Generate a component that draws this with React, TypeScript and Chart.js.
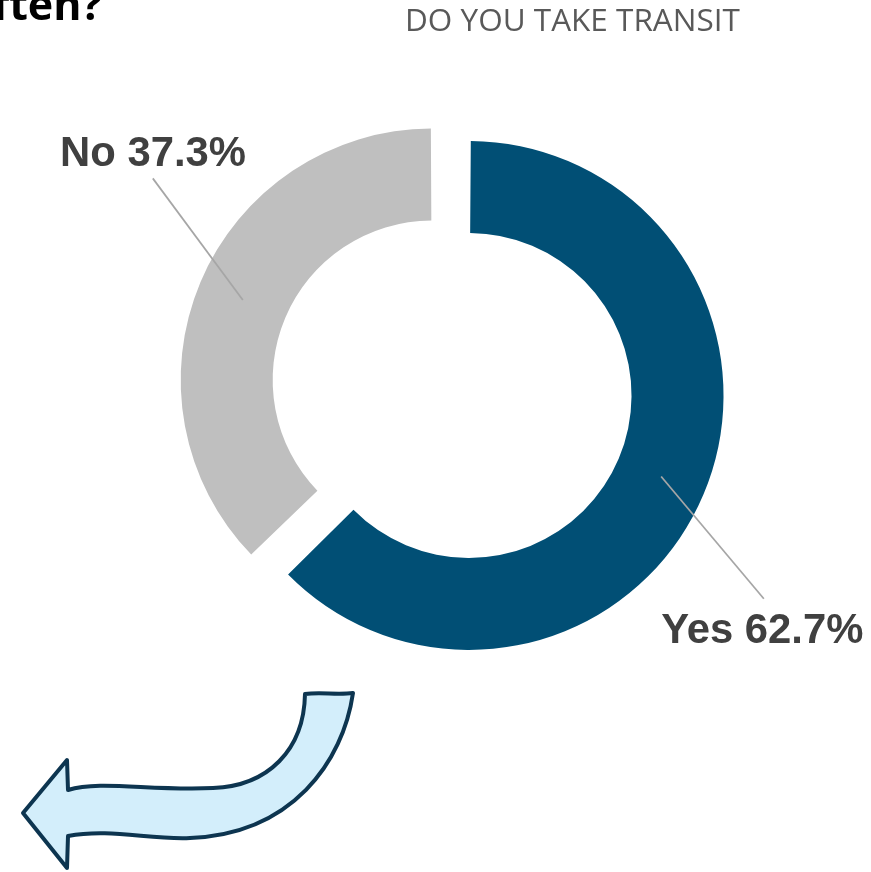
import { useEffect, useRef } from 'react';
import { Chart, registerables } from 'chart.js';

Chart.register(...registerables);

// ---- data ----
const categories = ['Yes', 'No'];
const percentages = [62.7, 37.3];
const sliceColors = ['#014f75', '#bfbfbf'];
const sliceOffsets = [44.8, 115.2];
const chartTitle = 'DO YOU TAKE TRANSIT';
const questionTail = 'often?';

const W = 871;
const H = 872;

// label leader deltas (from slice centroid) and text anchor deltas (from leader end)
const leaderDelta = [
  [102.7, 122.3],
  [-90, -121.7],
];
const textDelta = [
  [-102.7, 44.7],
  [-92.7, -12.3],
];

const decorPlugin = {
  id: 'decor',
  beforeDraw(chart: any) {
    const ctx = chart.ctx;
    ctx.save();
    // cut-off heading
    ctx.font = '700 43px "Open Sans"';
    ctx.fillStyle = '#000000';
    ctx.textAlign = 'right';
    ctx.textBaseline = 'alphabetic';
    ctx.fillText(questionTail, 102, 20);
    // title
    ctx.font = '400 31.5px "Open Sans"';
    ctx.fillStyle = '#595959';
    ctx.textAlign = 'left';
    ctx.fillText(chartTitle, 405, 31);

    // arrow
    ctx.beginPath();
    ctx.moveTo(305, 694);
    ctx.bezierCurveTo(320, 692, 338, 695, 353, 693);
    ctx.bezierCurveTo(343, 762, 292, 834, 190, 838);
    ctx.bezierCurveTo(150, 840, 110, 828, 68, 836);
    ctx.lineTo(67, 868);
    ctx.lineTo(23, 813);
    ctx.lineTo(67, 760);
    ctx.lineTo(68, 790);
    ctx.bezierCurveTo(100, 780, 150, 791, 213, 788);
    ctx.bezierCurveTo(268, 786, 304, 750, 305, 694);
    ctx.closePath();
    ctx.fillStyle = '#d3eefb';
    ctx.fill();
    ctx.lineWidth = 4;
    ctx.lineJoin = 'round';
    ctx.strokeStyle = '#0d3550';
    ctx.stroke();
    ctx.restore();
  },
  afterDatasetsDraw(chart: any) {
    const ctx = chart.ctx;
    const meta = chart.getDatasetMeta(0);
    ctx.save();
    meta.data.forEach((el: any, i: number) => {
      const { x, y, startAngle, endAngle, innerRadius, outerRadius, circumference } = el;
      const off = (el.options.offset || 0) / 4;
      const fix = 1 - Math.sin(Math.min(Math.PI, circumference));
      const rOff = off * fix;
      const mid = (startAngle + endAngle) / 2;
      const r = off + (innerRadius + outerRadius) / 2 + rOff;
      const cx = x + Math.cos(mid) * r;
      const cy = y + Math.sin(mid) * r;
      const ex = cx + leaderDelta[i][0];
      const ey = cy + leaderDelta[i][1];
      ctx.beginPath();
      ctx.moveTo(cx, cy);
      ctx.lineTo(ex, ey);
      ctx.lineWidth = 1.75;
      ctx.strokeStyle = '#a6a6a6';
      ctx.stroke();
      ctx.font = 'bold 41.8px "Liberation Sans", Arial, sans-serif';
      ctx.fillStyle = '#404040';
      ctx.textAlign = 'left';
      ctx.textBaseline = 'alphabetic';
      ctx.fillText(`${categories[i]} ${percentages[i].toFixed(1)}%`, ex + textDelta[i][0], ey + textDelta[i][1]);
    });
    ctx.restore();
  },
};

export default function App() {
  const ref = useRef<HTMLCanvasElement>(null);
  useEffect(() => {
    if (!ref.current) return;
    const chart = new Chart(ref.current, {
      type: 'doughnut',
      data: {
        labels: categories,
        datasets: [
          {
            data: percentages,
            backgroundColor: sliceColors,
            borderWidth: 0,
            offset: sliceOffsets,
            hoverOffset: 0,
          },
        ],
      },
      options: {
        responsive: false,
        animation: false,
        radius: 243.3,
        cutout: '62.19%',
        layout: { padding: { left: 46.4, right: 0, top: 0, bottom: 89.8 } },
        plugins: {
          legend: { display: false },
          tooltip: { enabled: false },
          title: { display: false },
        },
        events: [],
      },
      plugins: [decorPlugin],
    } as any);
    return () => chart.destroy();
  }, []);
  return (
    <div style={{ position: 'absolute', left: 0, top: 0, width: W, height: H, background: '#ffffff' }}>
      <canvas ref={ref} width={W} height={H} style={{ display: 'block', width: W, height: H }} />
    </div>
  );
}
